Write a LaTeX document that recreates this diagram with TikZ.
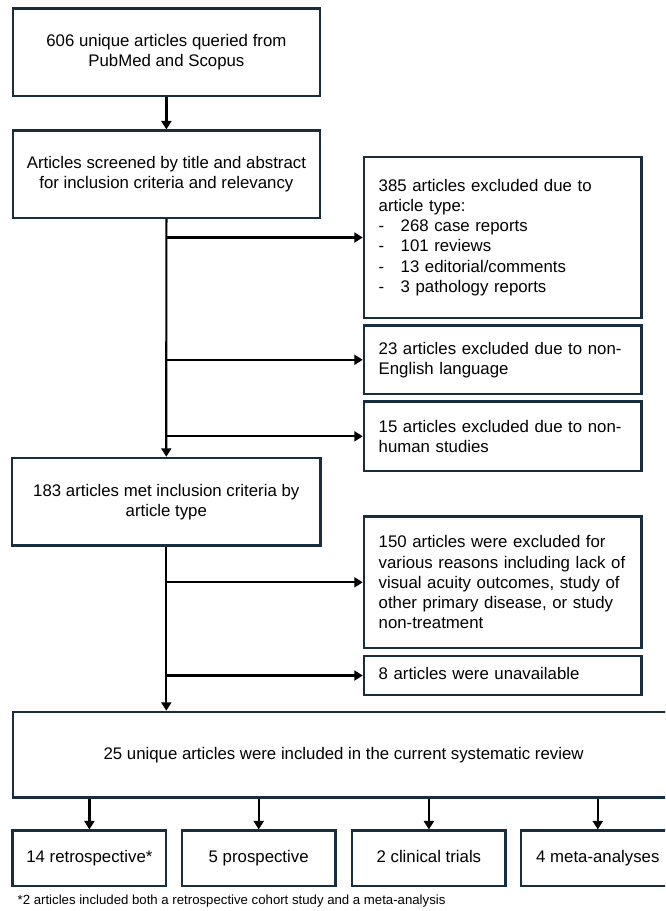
\documentclass[tikz,border=0pt]{standalone}
\usepackage{fontspec}
\setmainfont{Liberation Sans}
\usepackage{xcolor}
\usepackage{tikz}
\usetikzlibrary{arrows.meta}
\definecolor{boxNavy}{RGB}{24,45,62}

\begin{document}
\begin{tikzpicture}[x=1pt, y=-1pt,
  flowbox/.style={draw=boxNavy, line width=2.4pt, align=center, inner sep=0pt,
    font=\fontsize{16.8}{20.3}\selectfont},
  exclbox/.style={flowbox, align=left, text width=248pt, inner xsep=14.75pt,
    minimum width=277.5pt},
  typebox/.style={flowbox, minimum width=153.5pt, minimum height=55.3pt,
    text height=12pt, text depth=3.6pt},
  flowarrow/.style={black, line width=2.2pt, -{Triangle[length=8.5pt,width=10pt]}}]
\useasboundingbox (0,0) rectangle (665,911);
\clip (0,0) rectangle (665,911);

% main column
\node[flowbox, minimum width=307.3pt, minimum height=87.4pt] (query) at (166.4,52)
  {606 unique articles queried from\\PubMed and Scopus};
\node[flowbox, minimum width=307.3pt, minimum height=87.3pt] (screen) at (166.4,174.3)
  {Articles screened by title and abstract\\for inclusion criteria and relevancy};
\node[flowbox, minimum width=308.5pt, minimum height=87.7pt] (met) at (166.3,501.8)
  {183 articles met inclusion criteria by\\article type};
\node[flowbox, minimum width=661.7pt, minimum height=85.5pt] (included) at (343.6,754.7)
  {25 unique articles were included in the current systematic review};

% exclusions
\node[exclbox, minimum height=161pt] (excltype) at (502.7,237.5)
  {385 articles excluded due to\\article type:\\
   \makebox[22pt][l]{-}268 case reports\\
   \makebox[22pt][l]{-}101 reviews\\
   \makebox[22pt][l]{-}13 editorial/comments\\
   \makebox[22pt][l]{-}3 pathology reports};
\node[exclbox, minimum height=68.3pt] (excllang) at (502.7,359.8)
  {23 articles excluded due to non-\\English language};
\node[exclbox, minimum height=69.3pt] (exclhuman) at (502.7,436.3)
  {15 articles excluded due to non-\\human studies};
\node[exclbox, minimum height=131.3pt] (exclreason) at (502.7,582.3)
  {150 articles were excluded for\\various reasons including lack of\\visual acuity outcomes, study of\\other primary disease, or study\\non-treatment};
\node[exclbox, minimum height=39pt, text height=12pt, text depth=3.6pt] (unavail) at (502.7,675.5)
  {8 articles were unavailable};

% study types
\node[typebox] (retro) at (89.4,858.3) {14 retrospective*};
\node[typebox] (prosp) at (258.7,858.3) {5 prospective};
\node[typebox] (trial) at (428.9,858.3) {2 clinical trials};
\node[typebox] (meta) at (597.8,858.3) {4 meta-analyses};

\node[anchor=west, inner sep=0pt, font=\fontsize{13.2}{15}\selectfont] (note) at (17.5,901.5)
  {*2 articles included both a retrospective cohort study and a meta-analysis};

% arrows
\draw[flowarrow] (query.south) -- (screen.north);
\draw[flowarrow] (screen.south) -- (met.north);
\draw[flowarrow] (screen.south |- excltype.west) -- (excltype.west);
\draw[flowarrow] (screen.south |- excllang.west) -- (excllang.west);
\draw[flowarrow] (screen.south |- exclhuman.west) -- (exclhuman.west);
\draw[flowarrow] (met.south) -- (met.south |- included.north);
\draw[flowarrow] (met.south |- exclreason.west) -- (exclreason.west);
\draw[flowarrow] (met.south |- unavail.west) -- (unavail.west);
\draw[flowarrow] (retro.north |- included.south) -- (retro.north);
\draw[flowarrow] (prosp.north |- included.south) -- (prosp.north);
\draw[flowarrow] (trial.north |- included.south) -- (trial.north);
\draw[flowarrow] (meta.north |- included.south) -- (meta.north);
\end{tikzpicture}
\end{document}
